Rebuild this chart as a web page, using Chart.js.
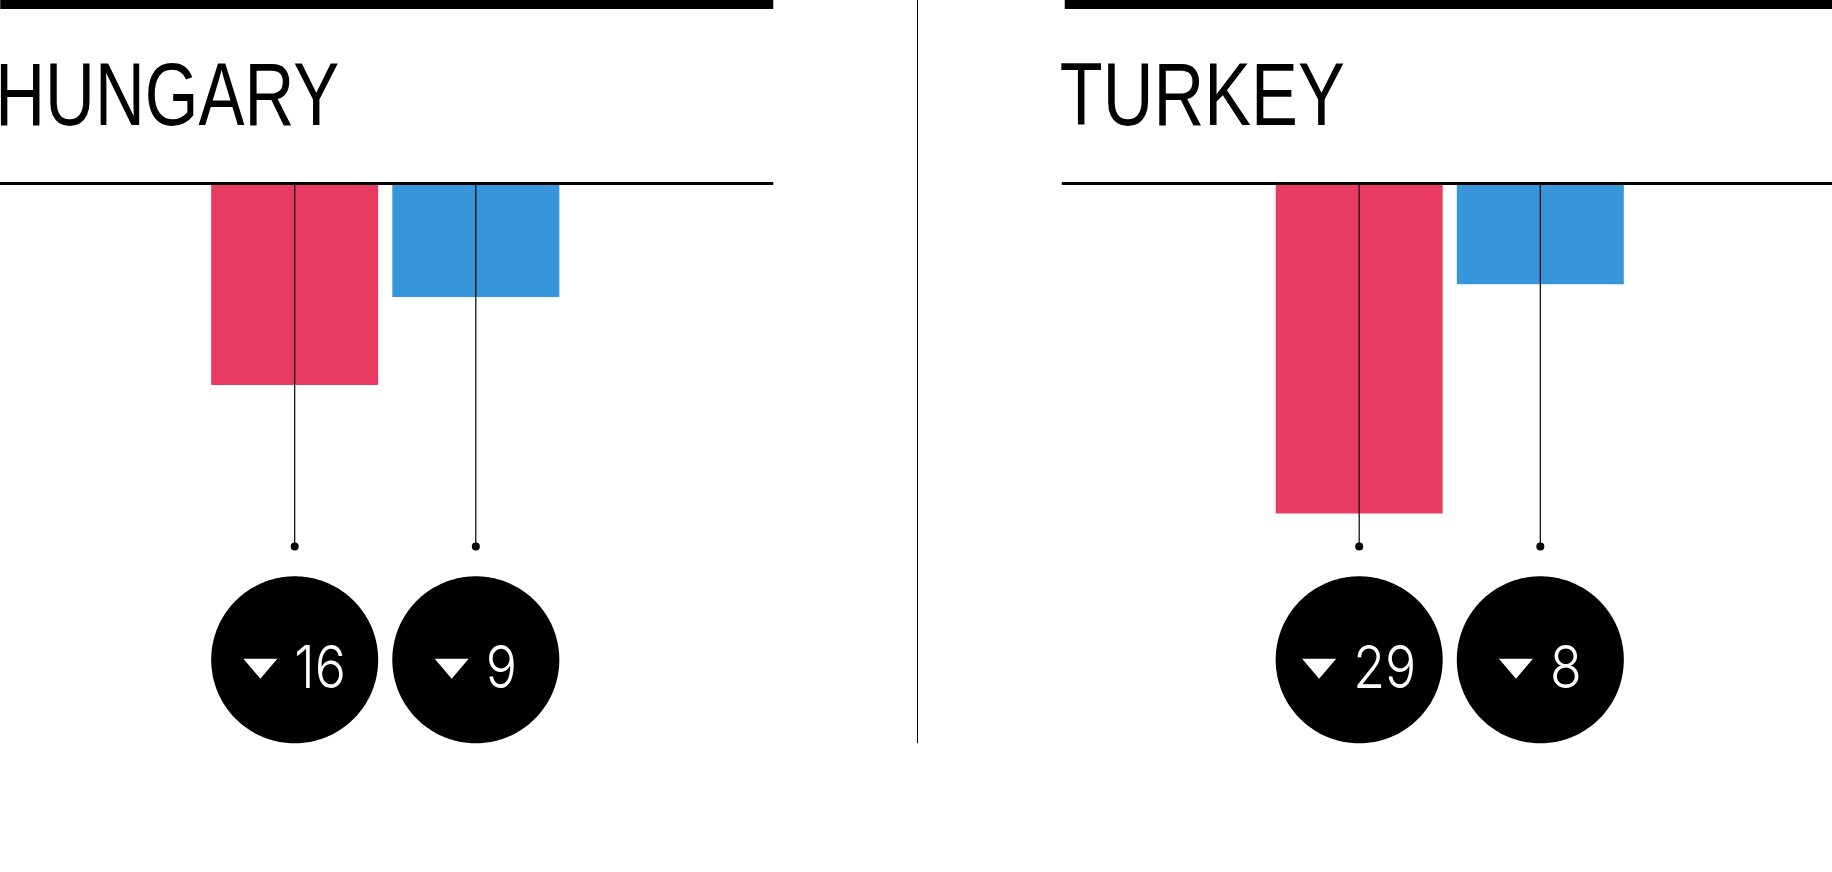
<!DOCTYPE html>
<html>
<head>
<meta charset="utf-8">
<title>Hungary / Turkey</title>
<script src="https://cdn.jsdelivr.net/npm/chart.js@4"></script>
<style>
  html, body { margin: 0; padding: 0; background: #fff; overflow: hidden; }
  #wrap { position: absolute; left: 0; top: 0; width: 1832px; height: 872px; overflow: hidden; }
  #chart { position: absolute; left: -147px; top: 0; }
</style>
</head>
<body>
<div id="wrap"><canvas id="chart" width="2129" height="872"></canvas></div>
<script>
// データ
const categories = ['HUNGARY', 'TURKEY'];
const redBars = [16, 26.2];
const blueBars = [9, 8];
const redLabels = [16, 29];
const blueLabels = [9, 8];

// 引き出し線の終点と丸の中心 (y軸の値)
const leaderEnd = 28.8;
const bubbleCenter = 37.8;

const RED = '#E93A62';
const BLUE = '#3795D9';
const TITLE_FONT = '89px "Liberation Sans"';
const TITLE_WIDTHS = [344, 285];
const NUMBER_FONT = '300 59px Inter';
const NUMBER_SQUEEZE = 0.88;

// パネルの罫線・タイトル
function drawPanelHeads(chart) {
  const ctx = chart.ctx;
  const zero = chart.scales.y.getPixelForValue(0);
  categories.forEach((name, i) => {
    const center = chart.scales.x.getPixelForValue(i);
    const left = center - 388;
    const right = center + 388;
    ctx.fillStyle = '#000';
    ctx.fillRect(left + 3, 0, right - left - 3, 9);
    ctx.fillRect(left, zero - 1.5, right - left, 3);

    // 細いフォントがないので横に縮める
    ctx.font = TITLE_FONT;
    ctx.textAlign = 'left';
    ctx.textBaseline = 'alphabetic';
    ctx.save();
    ctx.translate(left - 2, 125);
    ctx.scale(TITLE_WIDTHS[i] / ctx.measureText(name).width, 1);
    ctx.fillText(name, 0, 0);
    ctx.restore();
  });
}

// 引き出し線と点
function drawLeader(chart, x) {
  const ctx = chart.ctx;
  const y0 = chart.scales.y.getPixelForValue(0);
  const y1 = chart.scales.y.getPixelForValue(leaderEnd);
  ctx.strokeStyle = '#000';
  ctx.lineWidth = 1.2;
  ctx.beginPath();
  ctx.moveTo(x, y0);
  ctx.lineTo(x, y1);
  ctx.stroke();
  ctx.fillStyle = '#000';
  ctx.beginPath();
  ctx.arc(x, y1, 4, 0, Math.PI * 2);
  ctx.fill();
}

// 黒丸と数字
function drawBubble(chart, x, value) {
  const ctx = chart.ctx;
  const cy = chart.scales.y.getPixelForValue(bubbleCenter);
  const r = 83.5;

  // arcだと角張るので細かい多角形で描く
  ctx.fillStyle = '#000';
  ctx.beginPath();
  for (let k = 0; k < 240; k++) {
    const a = (k / 240) * Math.PI * 2;
    ctx.lineTo(x + r * Math.cos(a), cy + r * Math.sin(a));
  }
  ctx.closePath();
  ctx.fill();

  const text = String(value);
  ctx.font = NUMBER_FONT;
  const textWidth = ctx.measureText(text).width * NUMBER_SQUEEZE;
  const triWidth = 34;
  const gap = 17;
  const start = x - (triWidth + gap + textWidth) / 2;

  ctx.fillStyle = '#fff';
  ctx.beginPath();
  ctx.moveTo(start, cy - 1);
  ctx.lineTo(start + triWidth, cy - 1);
  ctx.lineTo(start + triWidth / 2, cy + 19);
  ctx.closePath();
  ctx.fill();

  ctx.textAlign = 'left';
  ctx.textBaseline = 'alphabetic';
  ctx.save();
  ctx.translate(start + triWidth + gap, cy + 28);
  ctx.scale(NUMBER_SQUEEZE, 1);
  ctx.fillText(text, 0, 0);
  ctx.restore();
}

const panelPlugin = {
  id: 'panelPlugin',
  afterDatasetsDraw(chart) {
    const ctx = chart.ctx;
    ctx.save();

    // 中央の区切り線
    const mid = (chart.scales.x.getPixelForValue(0) + chart.scales.x.getPixelForValue(1)) / 2;
    ctx.fillStyle = '#000';
    ctx.fillRect(Math.floor(mid), 0, 1, chart.scales.y.getPixelForValue(bubbleCenter) + 83.5);

    drawPanelHeads(chart);

    [redLabels, blueLabels].forEach((labels, d) => {
      chart.getDatasetMeta(d).data.forEach((bar, i) => {
        drawLeader(chart, bar.x);
        drawBubble(chart, bar.x, labels[i]);
      });
    });
    ctx.restore();
  }
};

new Chart(document.getElementById('chart'), {
  type: 'bar',
  data: {
    labels: categories,
    datasets: [
      { data: redBars, backgroundColor: RED },
      { data: blueBars, backgroundColor: BLUE }
    ]
  },
  options: {
    responsive: false,
    animation: false,
    layout: { padding: { top: 183.5, bottom: 58.5, left: 0, right: 0 } },
    categoryPercentage: 0.3403,
    barPercentage: 0.922,
    plugins: { legend: { display: false }, tooltip: { enabled: false } },
    scales: {
      x: { display: false },
      y: { display: false, reverse: true, min: 0, max: 50 }
    }
  },
  plugins: [panelPlugin]
});
</script>
</body>
</html>
